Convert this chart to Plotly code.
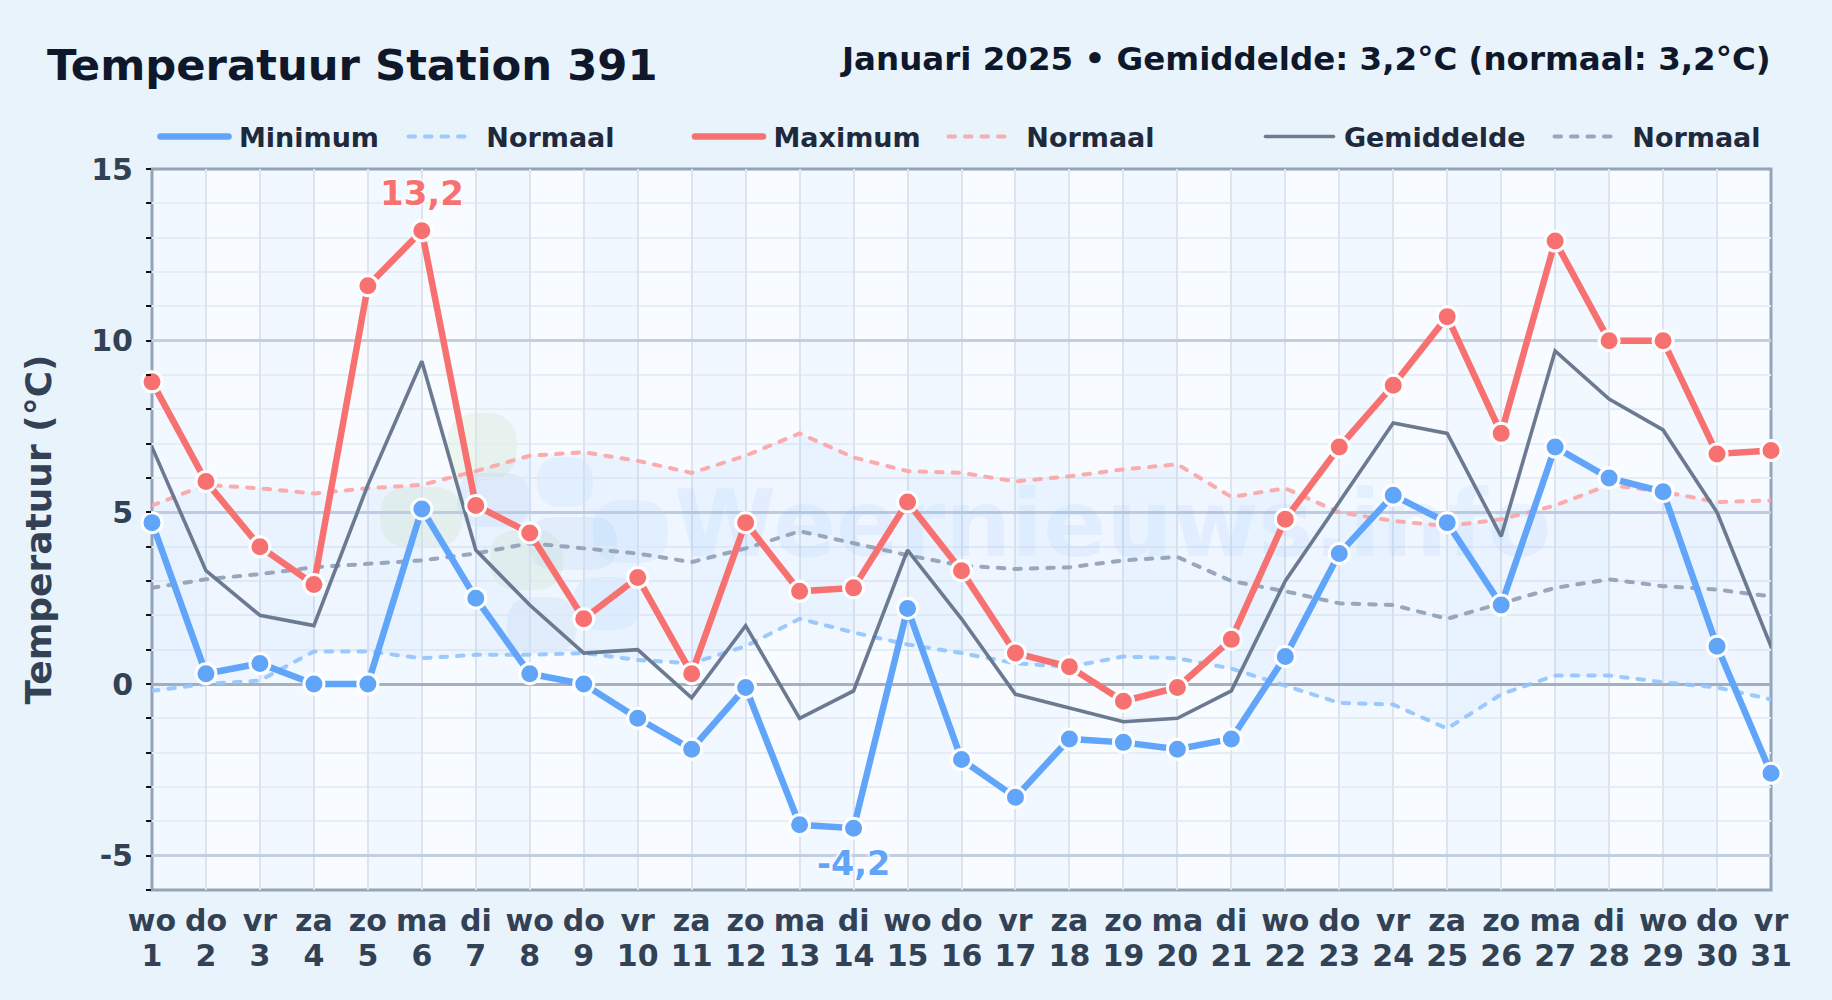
import plotly.graph_objects as go

days = list(range(1, 32))
weekdays = (["wo","do","vr","za","zo","ma","di"] * 5)[:31]
y_ticks = [-5, 0, 5, 10, 15]
y_tick_text = ["-5", "0", "5", "10", "15"]

t_min = [4.7,0.3,0.6,0,0,5.1,2.5,0.3,0,-1,-1.9,-0.1,-4.1,-4.2,2.2,-2.2,-3.3,-1.6,-1.7,-1.9,-1.6,0.8,3.8,5.5,4.7,2.3,6.9,6.0,5.6,1.1,-2.6]
t_max = [8.8,5.9,4.0,2.9,11.6,13.2,5.2,4.4,1.9,3.1,0.3,4.7,2.7,2.8,5.3,3.3,0.9,0.5,-0.5,-0.1,1.3,4.8,6.9,8.7,10.7,7.3,12.9,10,10,6.7,6.8]
t_avg = [6.9,3.3,2.0,1.7,5.8,9.4,3.9,2.3,0.9,1.0,-0.4,1.7,-1.0,-0.2,3.9,1.9,-0.3,-0.7,-1.1,-1.0,-0.2,3.0,5.3,7.6,7.3,4.3,9.7,8.3,7.4,5.0,1.1]
n_max = [5.2,5.8,5.7,5.55,5.7,5.8,6.2,6.65,6.75,6.5,6.15,6.65,7.3,6.6,6.2,6.15,5.9,6.05,6.25,6.4,5.45,5.7,5.0,4.75,4.6,4.8,5.2,5.8,5.6,5.3,5.35]
n_avg = [2.8,3.05,3.2,3.4,3.5,3.6,3.8,4.1,3.95,3.8,3.55,3.95,4.45,4.1,3.75,3.45,3.35,3.4,3.6,3.7,3.0,2.7,2.35,2.3,1.9,2.35,2.8,3.05,2.85,2.75,2.55]
n_min = [-0.2,0.0,0.1,0.95,0.95,0.75,0.85,0.85,0.9,0.7,0.6,1.1,1.9,1.5,1.15,0.9,0.6,0.5,0.8,0.75,0.45,-0.05,-0.55,-0.6,-1.3,-0.3,0.25,0.25,0.05,-0.1,-0.45]

title_text = "Temperatuur Station 391"
subtitle_text = "Januari 2025 • Gemiddelde: 3,2°C (normaal: 3,2°C)"
watermark_text = "Weernieuws.info"

FONT = "DejaVu Sans"
W, H = 1832, 1000
L, R, T, B = 152, 1771, 169, 890
BLUE, RED, GREY = "#60a5fa", "#f87171", "#64748b"
DASH = "6.5px,10px"

def px(x): return (x - L) / (R - L)
def py(y): return (B - y) / (B - T)

def blob(x0, y0, x1, y1, color):
    r = min(x1 - x0, y1 - y0) * 0.48
    pts = [
        f"M {px(x0+r)} {py(y0)}", f"L {px(x1-r)} {py(y0)}", f"Q {px(x1)} {py(y0)} {px(x1)} {py(y0+r)}",
        f"L {px(x1)} {py(y1-r)}", f"Q {px(x1)} {py(y1)} {px(x1-r)} {py(y1)}",
        f"L {px(x0+r)} {py(y1)}", f"Q {px(x0)} {py(y1)} {px(x0)} {py(y1-r)}",
        f"L {px(x0)} {py(y0+r)}", f"Q {px(x0)} {py(y0)} {px(x0+r)} {py(y0)}", "Z",
    ]
    return dict(type="path", path=" ".join(pts), xref="paper", yref="paper",
                fillcolor=color, line=dict(width=0), layer="below")

GREEN_B = "rgba(190,225,170,0.20)"
DARK_B = "rgba(120,170,225,0.10)"
LIGHT_B = "rgba(120,190,250,0.10)"
shapes = [
    blob(447, 413, 517, 480, GREEN_B), blob(380, 487, 462, 547, GREEN_B), blob(490, 530, 563, 590, GREEN_B),
    blob(457, 473, 530, 527, DARK_B), blob(507, 597, 577, 653, DARK_B), blob(530, 517, 617, 570, DARK_B),
    blob(537, 457, 593, 507, LIGHT_B), blob(593, 500, 668, 563, LIGHT_B), blob(573, 577, 640, 630, LIGHT_B),
]
for d in days[:-1]:
    if d % 2 == 1:
        shapes.append(dict(type="rect", xref="x", yref="paper", x0=d, x1=d + 1, y0=0, y1=1,
                           fillcolor="rgba(147,197,253,0.05)", line=dict(width=0), layer="below"))
shapes.append(dict(type="rect", xref="paper", yref="paper", x0=0, x1=1, y0=0, y1=1,
                   line=dict(color="#94a3b8", width=3), fillcolor="rgba(0,0,0,0)", layer="between"))

fig = go.Figure()

fig.add_trace(go.Scatter(x=days, y=n_min, mode="lines", line=dict(width=0), showlegend=False, hoverinfo="skip"))
fig.add_trace(go.Scatter(x=days, y=n_max, mode="lines", line=dict(width=0), fill="tonexty",
                         fillcolor="rgba(96,165,250,0.055)", showlegend=False, hoverinfo="skip"))
fig.add_trace(go.Scatter(x=[18.8], y=[4.4], mode="text", text=[watermark_text], textposition="middle center",
                         textfont=dict(family=FONT, size=93, color="rgba(96,165,250,0.09)", weight="bold"),
                         showlegend=False, hoverinfo="skip", cliponaxis=False))
fig.add_trace(go.Scatter(x=days, y=t_avg, xaxis="x2", mode="none", showlegend=False, hoverinfo="skip"))

def line(name, y, color, width, legend, dash=None, opacity=1.0):
    fig.add_trace(go.Scatter(x=days, y=y, mode="lines", name=name, legend=legend, opacity=opacity,
                             line=dict(color=color, width=width, dash=dash), cliponaxis=False))

NB = "\u00a0\u2009"
TH = "\u2009"
line(NB + "Normaal", n_min, "#93c5fd", 4, "legend2", DASH, 0.9)
line(NB + "Normaal", n_max, "#fca5a5", 4, "legend4", DASH, 0.9)
line(NB + "Normaal", n_avg, "#94a3b8", 4, "legend6", DASH, 0.95)
line(TH + "Gemiddelde", t_avg, GREY, 3.6, "legend5", None, 0.95)
line(TH + "Minimum", t_min, BLUE, 6.5, "legend")
line(TH + "Maximum", t_max, RED, 6.5, "legend3")

for y, c in ((t_min, BLUE), (t_max, RED)):
    fig.add_trace(go.Scatter(x=days, y=y, mode="markers", showlegend=False, cliponaxis=False,
                             marker=dict(color=c, size=20, line=dict(color="white", width=3))))

LEG_Y = (B - 137) / (B - T)
def leg(x, w=68):
    return dict(x=px(x), y=LEG_Y, xanchor="left", yanchor="middle", orientation="h", bgcolor="rgba(0,0,0,0)",
                borderwidth=0, itemwidth=w, font=dict(family=FONT, size=27, color="#1e293b", weight="bold"),
                itemclick=False, itemdoubleclick=False)

def fmt(v): return f"{v:.1f}".replace(".", ",")
imax = t_max.index(max(t_max)); imin = t_min.index(min(t_min))
SHADOW = "white 0 0 3px, white 0 0 3px, white 0 0 4px, white 0 0 4px"
ann = [
    dict(x=days[imax], y=t_max[imax], text=fmt(t_max[imax]), showarrow=False, yshift=38, yanchor="middle",
         font=dict(family=FONT, size=34, color=RED, weight="bold", shadow=SHADOW)),
    dict(x=days[imin], y=t_min[imin], text=fmt(t_min[imin]), showarrow=False, yshift=-35, yanchor="middle",
         font=dict(family=FONT, size=33.5, color=BLUE, weight="bold", shadow=SHADOW)),
    dict(xref="paper", yref="paper", x=px(45), y=py(65), text=title_text, showarrow=False, xanchor="left", yanchor="middle",
         font=dict(family=FONT, size=43.3, color="#0f172a", weight="bold")),
    dict(xref="paper", yref="paper", x=px(1772.5), y=py(59), text=subtitle_text, showarrow=False, xanchor="right", yanchor="middle",
         font=dict(family=FONT, size=32.5, color="#0f172a", weight="bold")),
]

TICK_FONT = dict(family=FONT, size=30, color="#334155", weight="bold")
fig.update_layout(
    width=W, height=H, autosize=False,
    margin=dict(l=L, r=W - R, t=T, b=H - B, pad=0),
    paper_bgcolor="#e8f3fc", plot_bgcolor="#f8fbff",
    font=dict(family=FONT),
    shapes=shapes, annotations=ann, hovermode=False,
    legend=leg(155.5), legend2=leg(403.5, 58), legend3=leg(690, 68), legend4=leg(943.5, 58),
    legend5=leg(1260.5), legend6=leg(1549.5, 58),
    xaxis=dict(range=[1, 31], tickmode="array", tickvals=days, ticktext=weekdays, ticks="",
               showgrid=True, gridcolor="#dde4ee", gridwidth=2, zeroline=False, showline=False,
               ticklabelstandoff=10, tickfont=TICK_FONT),
    xaxis2=dict(range=[1, 31], overlaying="x", side="bottom", anchor="y", tickmode="array", tickvals=days,
                ticktext=[str(d) for d in days], ticks="", showgrid=False, zeroline=False, showline=False,
                ticklabelstandoff=45, tickfont=TICK_FONT),
    yaxis=dict(range=[-6, 15], tickmode="array", tickvals=y_ticks, ticktext=y_tick_text, ticks="",
               showgrid=True, gridcolor="#c3cfdf", gridwidth=2.5,
               zeroline=True, zerolinecolor="#a4afbf", zerolinewidth=3,
               showline=False, ticklabelstandoff=18,
               minor=dict(dtick=1, tick0=0, ticks="outside", ticklen=5, tickwidth=1.5, tickcolor="#111111",
                          showgrid=True, gridcolor="#e6edf5", gridwidth=2),
               tickfont=TICK_FONT,
               title=dict(text="Temperatuur (°C)", standoff=28.5,
                          font=dict(family=FONT, size=36, color="#334155", weight="bold"))),
)

ROUND = ("document.body.style.margin='0';"
         "document.querySelectorAll('.js-line,.legendlines path').forEach(p=>{p.style.strokeLinecap='round';});")
fig.write_html("out.html", config={"displayModeBar": False}, post_script=ROUND)
